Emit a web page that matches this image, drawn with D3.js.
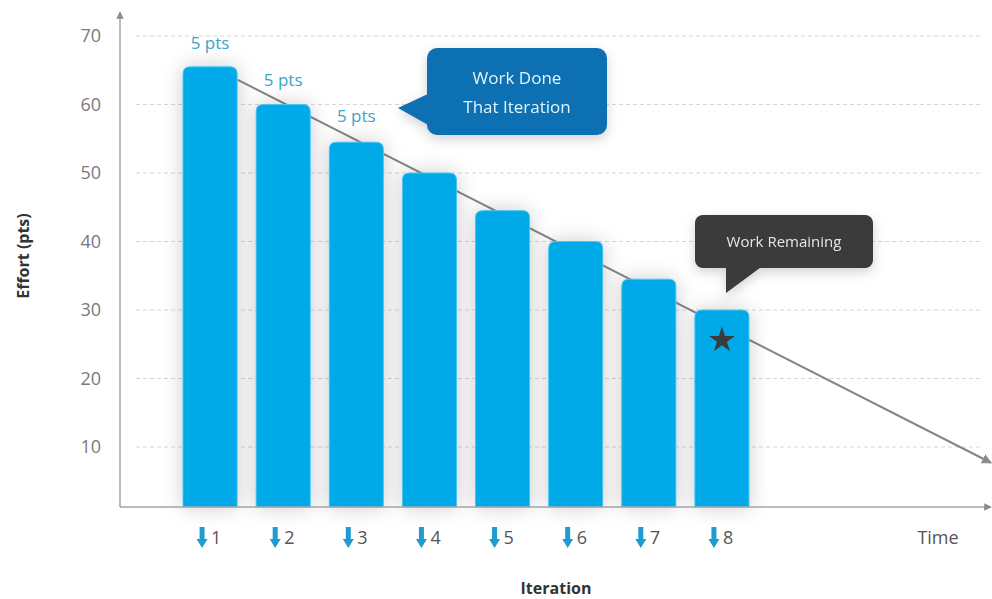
<!DOCTYPE html>
<html>
<head>
<meta charset="utf-8">
<script src="https://cdn.jsdelivr.net/npm/d3@7"></script>
<style>
  body { margin: 0; background: #fff; }
  svg { display: block; font-family: "Open Sans", sans-serif; }
</style>
</head>
<body>
<div id="chart"></div>
<script>
const width = 992;
const height = 599;

// data
const iterations = [1, 2, 3, 4, 5, 6, 7, 8];
const effort = [65.5, 60, 54.5, 50, 44.5, 40, 34.5, 30];
const yTicks = [10, 20, 30, 40, 50, 60, 70];
const doneLabels = ["5 pts", "5 pts", "5 pts"];   // over iterations 1..3
const trendIter = [1.38, 11.68];
const trendEffort = [63.6, 7.7];
const starPoint = { iter: 8, effort: 25.6 };

const svg = d3.select("#chart").append("svg")
    .attr("width", width)
    .attr("height", height);

const defs = svg.append("defs");

const shadow = defs.append("filter").attr("id", "shadow")
    .attr("x", "-30%").attr("y", "-30%").attr("width", "160%").attr("height", "160%");
shadow.append("feDropShadow")
    .attr("dx", 0).attr("dy", 4).attr("stdDeviation", 6)
    .attr("flood-color", "#000").attr("flood-opacity", 0.18);

const barShadow = defs.append("filter").attr("id", "barShadow")
    .attr("x", "-50%").attr("y", "-10%").attr("width", "200%").attr("height", "120%");
barShadow.append("feDropShadow")
    .attr("dx", 0).attr("dy", 0).attr("stdDeviation", 10)
    .attr("flood-color", "#000").attr("flood-opacity", 0.2);

defs.append("marker").attr("id", "arrowHead")
    .attr("viewBox", "0 0 10 10").attr("refX", 9).attr("refY", 5)
    .attr("markerWidth", 5).attr("markerHeight", 5)
    .attr("orient", "auto")
    .append("path").attr("d", "M0,0 L10,5 L0,10 z").attr("fill", "#8a8a8a");

// scales
const x = d3.scaleBand()
    .domain(iterations)
    .range([164, 768])
    .paddingInner(0.26)
    .paddingOuter(0.26);

const y = d3.scaleLinear()
    .domain([0, 70])
    .range([515.5, 36]);

const xLin = d3.scaleLinear()
    .domain([1, 8])
    .range([x(1) + x.bandwidth() / 2, x(8) + x.bandwidth() / 2]);

const axisX = 120;
const axisY = 507;
const gridLeft = 136;
const gridRight = 980;

// grid lines
svg.append("g")
    .selectAll("line")
    .data(yTicks)
    .join("line")
    .attr("x1", gridLeft).attr("x2", gridRight)
    .attr("y1", d => y(d)).attr("y2", d => y(d))
    .attr("stroke", "#d6d6d6")
    .attr("stroke-dasharray", "4,3");

// y tick labels
const yAxis = svg.append("g")
    .attr("transform", `translate(${axisX},0)`)
    .call(d3.axisLeft(y).tickValues(yTicks).tickSize(0).tickPadding(19));
yAxis.select(".domain").remove();
yAxis.selectAll("text")
    .attr("fill", "#7a7a7a")
    .style("font-size", "18px")
    .style("font-family", "Open Sans, sans-serif");

// trend line (behind the bars)
svg.append("line")
    .attr("x1", xLin(trendIter[0]))
    .attr("y1", y(trendEffort[0]))
    .attr("x2", xLin(trendIter[1]))
    .attr("y2", y(trendEffort[1]))
    .attr("stroke", "#858585")
    .attr("stroke-width", 2)
    .attr("marker-end", "url(#arrowHead)");

// bars
const topRounded = (x0, y0, w, h, r) =>
    `M${x0},${y0 + h} V${y0 + r} Q${x0},${y0} ${x0 + r},${y0} H${x0 + w - r} Q${x0 + w},${y0} ${x0 + w},${y0 + r} V${y0 + h} Z`;

svg.append("g")
    .selectAll("path")
    .data(iterations)
    .join("path")
    .attr("d", (d, i) => topRounded(x(d), y(effort[i]), x.bandwidth(), axisY - y(effort[i]), 7))
    .attr("fill", "#04a9e8")
    .attr("stroke", "#4cc4f0")
    .attr("stroke-width", 1)
    .attr("filter", "url(#barShadow)");

// axes lines
svg.append("line")
    .attr("x1", axisX).attr("y1", axisY)
    .attr("x2", axisX).attr("y2", 12)
    .attr("stroke", "#a5a5a5").attr("stroke-width", 1.5)
    .attr("marker-end", "url(#arrowHead)");
svg.append("line")
    .attr("x1", axisX).attr("y1", axisY)
    .attr("x2", 991).attr("y2", axisY)
    .attr("stroke", "#a5a5a5").attr("stroke-width", 1.5)
    .attr("marker-end", "url(#arrowHead)");

// "5 pts" labels
svg.append("g")
    .selectAll("text")
    .data(doneLabels)
    .join("text")
    .attr("x", (d, i) => x(iterations[i]) + x.bandwidth() / 2)
    .attr("y", (d, i) => y(effort[i]) - 18 - i)
    .attr("text-anchor", "middle")
    .attr("fill", "#3aa4c9")
    .style("font-size", "17px")
    .text(d => d);

// iteration labels with down arrows
const iterG = svg.append("g")
    .selectAll("g")
    .data(iterations)
    .join("g")
    .attr("transform", d => `translate(${x(d) + x.bandwidth() / 2},538)`);
iterG.append("path")
    .attr("d", "M-10.5,-11 H-5.5 V1 H-2.5 L-8,10 L-13.5,1 H-10.5 Z")
    .attr("fill", "#1f9bd2");
iterG.append("text")
    .attr("x", 1)
    .attr("dy", "0.35em")
    .attr("fill", "#555")
    .style("font-size", "18px")
    .text(d => d);

// axis titles
svg.append("text")
    .attr("transform", "translate(29,256) rotate(-90)")
    .attr("text-anchor", "middle")
    .attr("fill", "#333")
    .style("font-size", "16px")
    .style("font-weight", "bold")
    .text("Effort (pts)");

svg.append("text")
    .attr("x", 556).attr("y", 594)
    .attr("text-anchor", "middle")
    .attr("fill", "#333")
    .style("font-size", "16px")
    .style("font-weight", "bold")
    .text("Iteration");

svg.append("text")
    .attr("x", 938).attr("y", 538)
    .attr("dy", "0.35em")
    .attr("text-anchor", "middle")
    .attr("fill", "#555")
    .style("font-size", "18px")
    .text("Time");

// star on the last bar
svg.append("path")
    .attr("d", d3.symbol(d3.symbolStar, 210)())
    .attr("transform", `translate(${xLin(starPoint.iter)},${y(starPoint.effort)})`)
    .attr("fill", "#3b3b3b");

// callout: Work Done That Iteration
const c1 = svg.append("g").attr("filter", "url(#shadow)");
c1.append("path")
    .attr("d", "M398,108 L430,93 L430,126 Z")
    .attr("fill", "#0c6fb2");
c1.append("rect")
    .attr("x", 427).attr("y", 48).attr("width", 180).attr("height", 87)
    .attr("rx", 10)
    .attr("fill", "#0c6fb2");
c1.append("text")
    .attr("x", 517).attr("y", 84)
    .attr("text-anchor", "middle")
    .attr("fill", "#e2f4fb")
    .style("font-size", "17px")
    .text("Work Done");
c1.append("text")
    .attr("x", 517).attr("y", 113)
    .attr("text-anchor", "middle")
    .attr("fill", "#e2f4fb")
    .style("font-size", "17px")
    .text("That Iteration");

// callout: Work Remaining
const c2 = svg.append("g").attr("filter", "url(#shadow)");
c2.append("path")
    .attr("d", "M726,262 L768,262 L726,293 Z")
    .attr("fill", "#3a3a3a");
c2.append("rect")
    .attr("x", 695).attr("y", 215).attr("width", 178).attr("height", 53)
    .attr("rx", 8)
    .attr("fill", "#3a3a3a");
c2.append("text")
    .attr("x", 784).attr("y", 242)
    .attr("dy", "0.35em")
    .attr("text-anchor", "middle")
    .attr("fill", "#e6e6e6")
    .style("font-size", "15px")
    .text("Work Remaining");
</script>
</body>
</html>
